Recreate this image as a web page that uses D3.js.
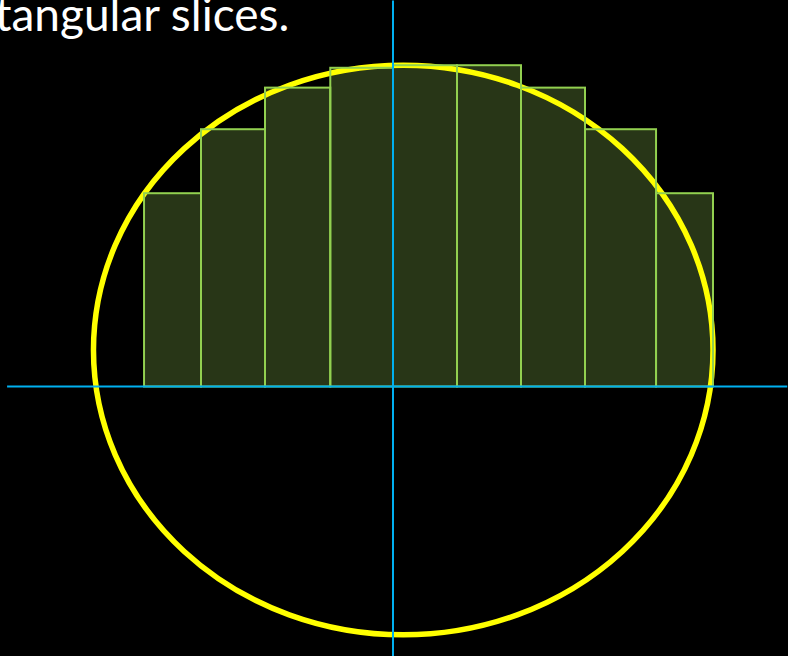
<!DOCTYPE html>
<html>
<head>
<meta charset="utf-8">
<script src="https://cdn.jsdelivr.net/npm/d3@7"></script>
<style>
  html, body { margin: 0; padding: 0; background: #000; overflow: hidden; }
  svg { display: block; }
</style>
</head>
<body>
<svg id="chart" width="788" height="656"></svg>
<script>
// ---- data (units: one slice width = 1) ----
const sliceEdges = [-3.89, -3.0, -2.0, -0.98, 0, 1.0, 2.0, 3.0, 4.11, 5.0];
const sliceHeights = [3.02, 4.02, 4.67, 4.98, 5.02, 5.02, 4.67, 4.02, 3.02];
const ellipseCenter = [0.16, 0.57];
const ellipseRadii = [4.84, 4.45];
const xAxisExtent = [-6.03, 6.16];
const yAxisExtent = [-4.22, 6.03];
const titleText = "tangular slices.";

const W = 788, H = 656;
const svg = d3.select("#chart");
svg.append("rect").attr("width", W).attr("height", H).attr("fill", "#000");

const x = d3.scaleLinear().domain([0, 1]).range([393, 457]);
const y = d3.scaleLinear().domain([0, 1]).range([386.5, 322.5]);

const bars = sliceHeights.map((h, i) => ({ x0: sliceEdges[i], x1: sliceEdges[i + 1], h }));

// bar fills
svg.append("g").selectAll("rect").data(bars).join("rect")
  .attr("x", d => x(d.x0)).attr("y", d => y(d.h))
  .attr("width", d => x(d.x1) - x(d.x0)).attr("height", d => y(0) - y(d.h))
  .attr("fill", "#283617");

// ellipse
svg.append("ellipse")
  .attr("cx", x(ellipseCenter[0])).attr("cy", y(ellipseCenter[1]))
  .attr("rx", x(ellipseRadii[0]) - x(0)).attr("ry", y(0) - y(ellipseRadii[1]))
  .attr("fill", "none").attr("stroke", "#ffff00").attr("stroke-width", 5.5);

// bar outlines
svg.append("g").selectAll("rect").data(bars).join("rect")
  .attr("x", d => x(d.x0)).attr("y", d => y(d.h))
  .attr("width", d => x(d.x1) - x(d.x0)).attr("height", d => y(0) - y(d.h))
  .attr("fill", "none").attr("stroke", "#92d050").attr("stroke-width", 2);

// axes
svg.append("line")
  .attr("x1", x(xAxisExtent[0])).attr("x2", x(xAxisExtent[1]))
  .attr("y1", y(0)).attr("y2", y(0))
  .attr("stroke", "#00b0f0").attr("stroke-width", 2);
svg.append("line")
  .attr("x1", x(0)).attr("x2", x(0))
  .attr("y1", y(yAxisExtent[0])).attr("y2", y(yAxisExtent[1]))
  .attr("stroke", "#00b0f0").attr("stroke-width", 2);

// title fragment (cut at the top edge, as in the reference)
svg.append("text")
  .attr("x", -5).attr("y", 31)
  .attr("fill", "#fff")
  .attr("font-family", "Lato, 'Open Sans', sans-serif")
  .attr("font-size", 46)
  .text(titleText);
</script>
</body>
</html>
